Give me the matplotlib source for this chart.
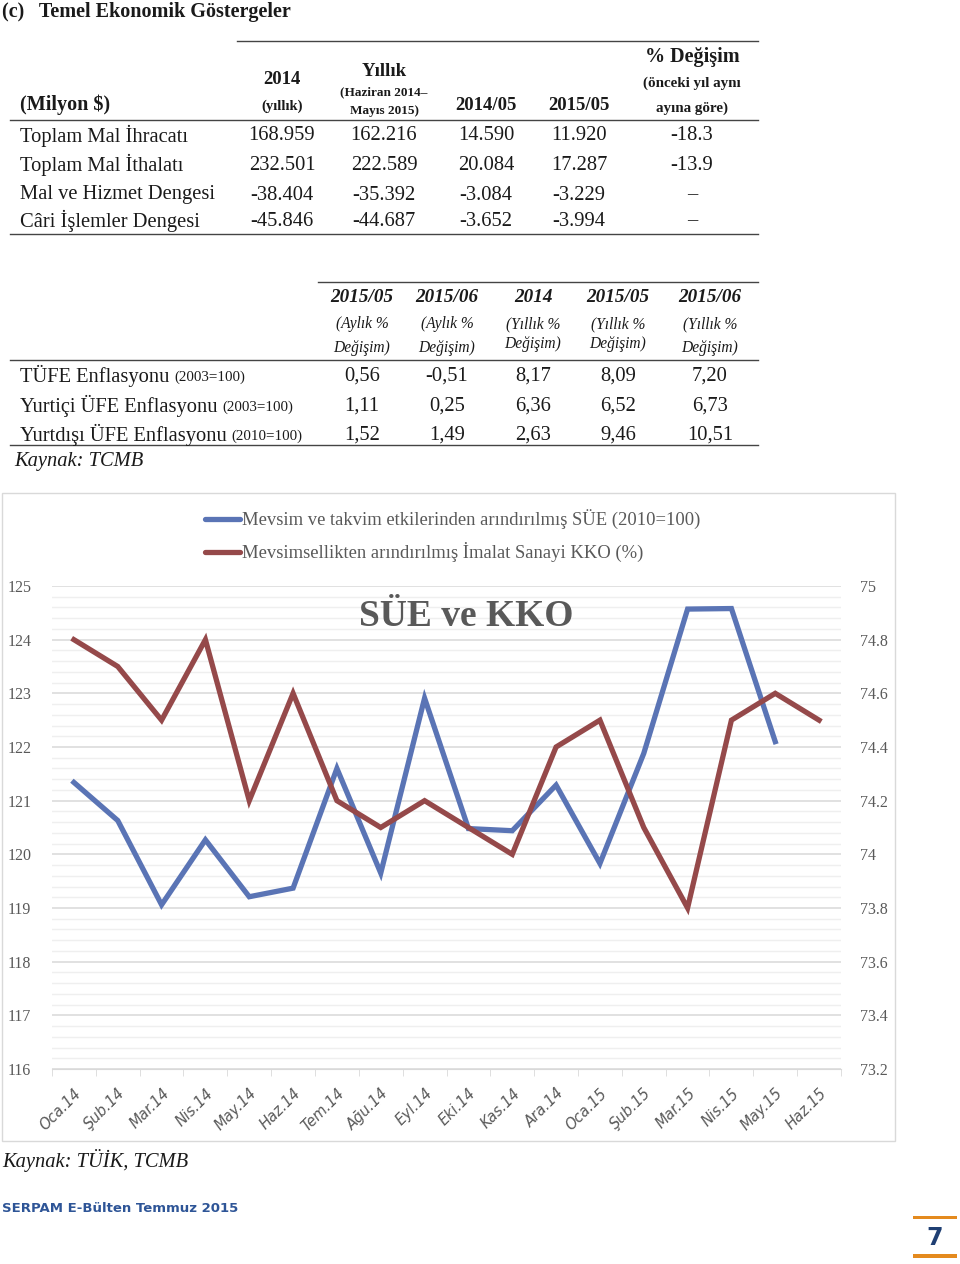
import matplotlib
matplotlib.use("Agg")
import matplotlib.pyplot as plt
from matplotlib.lines import Line2D
from matplotlib.patches import Rectangle
from matplotlib.ticker import MultipleLocator, FixedLocator, NullFormatter
import numpy as np

W, H = 960, 1264
SERIF = ["Liberation Serif", "DejaVu Serif"]
plt.rcParams['font.family'] = SERIF

# ---------------- data ----------------
tbl1_cols = ["2014", "Yıllık", "2014/05", "2015/05", "% Değişim"]
tbl1_rows = ["Toplam Mal İhracatı", "Toplam Mal İthalatı", "Mal ve Hizmet Dengesi", "Câri İşlemler Dengesi"]
tbl1_vals = [["168.959", "162.216", "14.590", "11.920", "-18.3"],
             ["232.501", "222.589", "20.084", "17.287", "-13.9"],
             ["-38.404", "-35.392", "-3.084", "-3.229", "–"],
             ["-45.846", "-44.687", "-3.652", "-3.994", "–"]]

tbl2_cols = ["2015/05", "2015/06", "2014", "2015/05", "2015/06"]
tbl2_sub1 = ["(Aylık %", "(Aylık %", "(Yıllık %", "(Yıllık %", "(Yıllık %"]
tbl2_rows = ["TÜFE Enflasyonu", "Yurtiçi ÜFE Enflasyonu", "Yurtdışı ÜFE Enflasyonu"]
tbl2_bases = ["(2003=100)", "(2003=100)", "(2010=100)"]
tbl2_vals = [["0,56", "-0,51", "8,17", "8,09", "7,20"],
             ["1,11", "0,25", "6,36", "6,52", "6,73"],
             ["1,52", "1,49", "2,63", "9,46", "10,51"]]

months = ["Oca.14", "Şub.14", "Mar.14", "Nis.14", "May.14", "Haz.14", "Tem.14", "Ağu.14",
          "Eyl.14", "Eki.14", "Kas.14", "Ara.14", "Oca.15", "Şub.15", "Mar.15", "Nis.15",
          "May.15", "Haz.15"]
sue = [121.34, 120.63, 119.06, 120.27, 119.21, 119.37, 121.60, 119.65, 122.91, 120.48,
       120.44, 121.29, 119.83, 121.88, 124.57, 124.58, 122.10, np.nan]
kko = [74.80, 74.70, 74.50, 74.80, 74.20, 74.60, 74.20, 74.10, 74.20, 74.10,
       74.00, 74.40, 74.50, 74.10, 73.80, 74.50, 74.60, 74.50]
sue_label = "Mevsim ve takvim etkilerinden arındırılmış SÜE (2010=100)"
kko_label = "Mevsimsellikten arındırılmış İmalat Sanayi KKO (%)"

# ---------------- figure ----------------
fig = plt.figure(figsize=(W / 100, H / 100), dpi=100)
fig.patch.set_facecolor("white")

def fx(x):
    return x / W

def fy(y):
    return 1 - y / H

def T(x, y, s, **kw):
    kw.setdefault("va", "center")
    kw.setdefault("color", "#1a1a1a")
    return fig.text(fx(x), fy(y), s, **kw)

def HL(x0, x1, y, lw=1.0, color="#444444"):
    fig.add_artist(Line2D([fx(x0), fx(x1)], [fy(y), fy(y)], lw=lw, color=color))

BODY = 14.8

# Title
T(2, 17, "(c)   Temel Ekonomik Göstergeler", fontsize=14.5, fontweight="bold", va="baseline")

# Table 1
HL(237, 758, 41)
HL(10, 758, 120)
HL(10, 758, 234)
T(20, 105, "(Milyon $)", fontsize=14.5, fontweight="bold")
c1x = [282, 384, 486, 579, 692]
T(c1x[0], 80, "2014", fontsize=13.5, fontweight="bold", ha="center")
T(c1x[0], 106, "(yıllık)", fontsize=10.5, fontweight="bold", ha="center")
T(c1x[1], 71, "Yıllık", fontsize=13.5, fontweight="bold", ha="center")
T(c1x[1], 92, "(Haziran 2014–", fontsize=9.5, fontweight="bold", ha="center")
T(c1x[1], 111, "Mayıs 2015)", fontsize=9.5, fontweight="bold", ha="center")
T(c1x[2], 105, "2014/05", fontsize=13.5, fontweight="bold", ha="center")
T(c1x[3], 105, "2015/05", fontsize=13.5, fontweight="bold", ha="center")
T(c1x[4], 57, "% Değişim", fontsize=14.5, fontweight="bold", ha="center")
T(c1x[4], 83, "(önceki yıl aynı", fontsize=10.8, fontweight="bold", ha="center")
T(c1x[4], 108, "ayına göre)", fontsize=10.8, fontweight="bold", ha="center")
r1y = [136, 165, 195, 221]
for i, name in enumerate(tbl1_rows):
    T(20, r1y[i], name, fontsize=BODY)
    for j, v in enumerate(tbl1_vals[i]):
        T(c1x[j], r1y[i], v, fontsize=BODY, ha="center")

# Table 2
HL(318, 758, 282)
HL(10, 758, 360)
HL(10, 758, 445)
c2x = [362, 447, 533, 618, 710]
for j in range(5):
    T(c2x[j], 298, tbl2_cols[j], fontsize=13.8, fontweight="bold", style="italic", ha="center")
    T(c2x[j], 324, tbl2_sub1[j], fontsize=11.2, style="italic", ha="center")
    T(c2x[j], 348 if j in (0, 1, 4) else 344, "Değişim)", fontsize=11.2, style="italic", ha="center")
r2y = [376, 406, 435]
renderer = fig.canvas.get_renderer()
for i, name in enumerate(tbl2_rows):
    t = T(20, r2y[i], name + " ", fontsize=BODY)
    bb = t.get_window_extent(renderer)
    T(bb.x1, r2y[i] + 1, tbl2_bases[i], fontsize=10.8)
    for j, v in enumerate(tbl2_vals[i]):
        T(c2x[j], r2y[i], v, fontsize=BODY, ha="center")
T(14, 461, "Kaynak: TCMB", fontsize=BODY, style="italic")

# ---------------- chart ----------------
fig.add_artist(Rectangle((fx(2), fy(1141)), fx(893), (1141 - 493) / H,
                         transform=fig.transFigure, fill=False, ec="#d9d9d9", lw=1.0))

px0, px1, py0, py1 = 52, 841, 586, 1069
ax = fig.add_axes([fx(px0), fy(py1), fx(px1 - px0), (py1 - py0) / H])
ax2 = ax.twinx()
x = np.arange(len(months))

ax.set_ylim(116, 125)
ax2.set_ylim(73.2, 75)
ax.set_xlim(-0.5, len(months) - 0.5)

ax.yaxis.set_major_locator(MultipleLocator(1))
ax.yaxis.set_minor_locator(MultipleLocator(0.2))
ax2.yaxis.set_major_locator(FixedLocator([73.2, 73.4, 73.6, 73.8, 74.0, 74.2, 74.4, 74.6, 74.8, 75.0]))
ax.grid(which="major", axis="y", color="#d9d9d9", lw=1.1)
ax.grid(which="minor", axis="y", color="#efefef", lw=1.0)
ax.set_axisbelow(True)

for a in (ax, ax2):
    for s in a.spines.values():
        s.set_visible(False)
ax.spines["bottom"].set_visible(True)
ax.spines["bottom"].set_color("#d9d9d9")

ax.tick_params(axis="y", which="both", length=0, labelsize=11.5, labelcolor="#595959", pad=15)
ax2.tick_params(axis="y", which="both", length=0, labelsize=11.5, labelcolor="#595959", pad=14)
ax.set_yticks(np.arange(116, 126, 1))
ax.set_yticklabels([str(v) for v in range(116, 126)])
ax2.set_yticklabels(["73.2", "73.4", "73.6", "73.8", "74", "74.2", "74.4", "74.6", "74.8", "75"])

ax.set_xticks(x)
ax.set_xticklabels(months, rotation=45, ha="right", va="top", rotation_mode="anchor",
                   fontsize=10.5, color="#595959", style="italic",
                   family=["DejaVu Sans"])
ax.tick_params(axis="x", which="major", length=0, pad=12)
ax.set_xticks(np.arange(-0.5, len(months), 1), minor=True)
ax.tick_params(axis="x", which="minor", length=5, color="#d9d9d9")
ax.xaxis.set_minor_formatter(NullFormatter())

blue = "#5a74b5"
red = "#95494a"
ax.plot(x, sue, color=blue, lw=3.8, solid_joinstyle="miter", zorder=3)
ax2.plot(x, kko, color=red, lw=3.8, solid_joinstyle="miter", zorder=3)

ax.text(0.525, 0.937, "SÜE ve KKO", transform=ax.transAxes, ha="center", va="center",
        fontsize=27, fontweight="bold", color="#595959")

# legend
for yy, col, lab in [(519, blue, sue_label), (552, red, kko_label)]:
    fig.add_artist(Line2D([fx(205), fx(240)], [fy(yy), fy(yy)], color=col, lw=3.8,
                          solid_capstyle="round"))
    T(242, yy, lab, fontsize=13.4, color="#595959")

# footer
T(2, 1161, "Kaynak: TÜİK, TCMB", fontsize=BODY, style="italic")
T(2, 1208, "SERPAM E-Bülten Temmuz 2015", fontsize=9.5, fontweight="bold",
  color="#2e5597", family=["DejaVu Sans"])
fig.add_artist(Rectangle((fx(913), fy(1219)), fx(44), 3 / H, transform=fig.transFigure,
                         color="#e48a1e", lw=0))
fig.add_artist(Rectangle((fx(913), fy(1258)), fx(44), 4 / H, transform=fig.transFigure,
                         color="#e48a1e", lw=0))
T(935, 1238, "7", fontsize=17, fontweight="bold", color="#1f3f73", ha="center",
  family=["DejaVu Sans"])

fig.savefig("out.png", dpi=100)
